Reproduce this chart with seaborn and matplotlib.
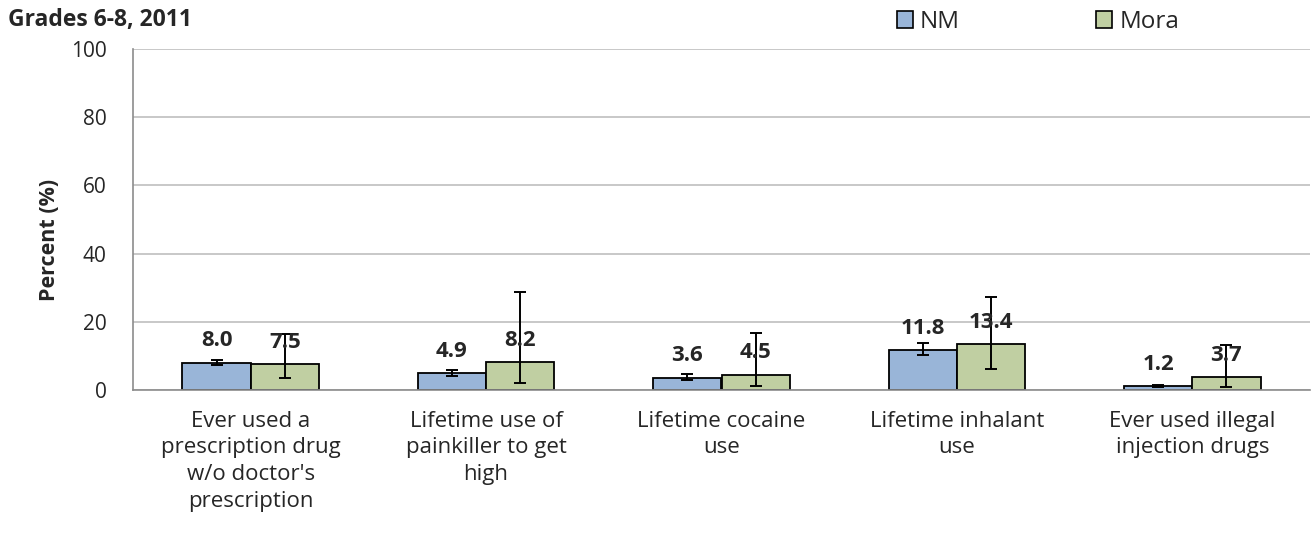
import numpy as np
import pandas as pd
import seaborn as sns
import matplotlib.pyplot as plt

categories = ["Ever used a\nprescription drug\nw/o doctor's\nprescription",
              "Lifetime use of\npainkiller to get\nhigh",
              "Lifetime cocaine\nuse",
              "Lifetime inhalant\nuse",
              "Ever used illegal\ninjection drugs"]
nm = [8.0, 4.9, 3.6, 11.8, 1.2]
nm_lo = [7.4, 4.1, 2.9, 10.4, 1.0]
nm_hi = [8.8, 5.9, 4.8, 13.7, 1.4]
mora = [7.5, 8.2, 4.5, 13.4, 3.7]
mora_lo = [3.4, 2.1, 1.2, 6.2, 1.0]
mora_hi = [16.3, 28.7, 16.8, 27.4, 13.2]

sns.set_style("white")
plt.rcParams['font.family'] = ['Open Sans', 'DejaVu Sans']

df = pd.DataFrame({
    'cat': categories * 2,
    'area': ['NM'] * 5 + ['Mora'] * 5,
    'val': nm + mora,
})

fig = plt.figure(figsize=(13.11, 5.52), dpi=100)
ax = fig.add_axes([133 / 1311, 1 - 390 / 552, 1177 / 1311, 341 / 552])

sns.barplot(data=df, x='cat', y='val', hue='area', palette=['#8EB4E3', '#C3D69B'],
            width=0.58, edgecolor='black', linewidth=1.3, errorbar=None, ax=ax)

vals = [nm, mora]
los = [nm_lo, mora_lo]
his = [nm_hi, mora_hi]
bar_conts = list(ax.containers)
for k, cont in enumerate(bar_conts):
    for i, bar in enumerate(cont.patches):
        xc = bar.get_x() + bar.get_width() / 2
        v = vals[k][i]
        ax.errorbar(xc, v, yerr=[[v - los[k][i]], [his[k][i] - v]], fmt='none',
                    ecolor='black', elinewidth=1.4, capsize=4, capthick=1.4, zorder=3)
        ax.text(xc, v + 3.3, f"{v:.1f}", ha='center', va='bottom', fontsize=16,
                fontweight='bold', zorder=4)

ax.set_ylim(0, 100)
ax.set_xlim(-0.5, 4.5)
ax.set_yticks(range(0, 101, 20))
ax.yaxis.grid(True, color='#BFBFBF', linewidth=1.2)
ax.set_axisbelow(True)
for s in ['top', 'right']:
    ax.spines[s].set_visible(False)
for s in ['left', 'bottom']:
    ax.spines[s].set_color('#8C8C8C')
    ax.spines[s].set_linewidth(1.2)

ax.set_xticks(range(5))
ax.set_xticklabels(categories, fontsize=16, linespacing=1.35)
ax.set_xticks(np.arange(-0.5, 5, 1), minor=True)
ax.tick_params(axis='x', which='major', length=0, pad=15)
ax.tick_params(axis='x', which='minor', length=9, color='#8C8C8C', width=1.2)
ax.tick_params(axis='y', length=7, color='#8C8C8C', width=1.2, labelsize=15, pad=12)
ax.set_xlabel('')
ax.set_ylabel('Percent (%)', fontsize=15.5, fontweight='bold')
ax.yaxis.set_label_coords(-73 / 1177, 0.44)

fig.text(8 / 1311, 1 - 20 / 552, 'Grades 6-8, 2011', fontsize=16.5, fontweight='bold',
         va='center', ha='left')

leg = ax.legend(loc='center', bbox_to_anchor=(1038 / 1311, 1 - 22 / 552),
                bbox_transform=fig.transFigure, ncol=2, frameon=False, fontsize=17.5,
                handlelength=0.65, handleheight=0.65, handletextpad=0.3, columnspacing=5.6)
for h in leg.legend_handles:
    h.set_edgecolor('black')
    h.set_linewidth(1.2)

fig.savefig('out.png', dpi=100)
